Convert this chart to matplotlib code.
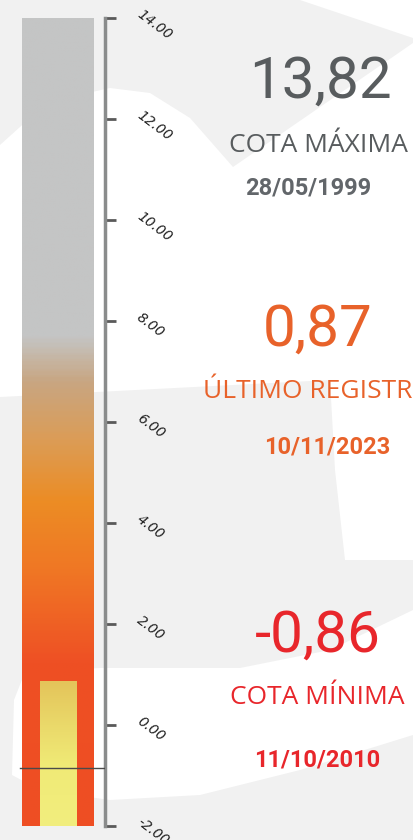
import matplotlib.pyplot as plt
import numpy as np
from matplotlib.colors import LinearSegmentedColormap
from matplotlib.patches import Polygon

# dados da régua
escala_min = -2.0
escala_max = 14.0
ticks = [-2, 0, 2, 4, 6, 8, 10, 12, 14]
tick_labels = ['-2.00', '0.00', '2.00', '4.00', '6.00', '8.00', '10.00', '12.00', '14.00']

cota_maxima = 13.82
data_maxima = '28/05/1999'
ultimo_registro = 0.87
data_ultimo = '10/11/2023'
cota_minima = -0.86
data_minima = '11/10/2010'

# cores do gradiente da régua (por cota)
stops_fundo = [(-2.0, '#EE4E23'), (1.2, '#EE5024'), (3.0, '#F07624'), (4.4, '#EC8C24'),
               (5.6, '#DC9C55'), (6.8, '#C8A682'), (7.7, '#C4C5C5'), (14.0, '#C4C5C5')]
stops_nivel = [(-2.0, '#F2EE7E'), (-0.8, '#F0EA76'), (0.0, '#EAD96A'), (0.87, '#E4C45A')]

W, H = 413, 840
fig = plt.figure(figsize=(W / 100, H / 100), dpi=100)
fig.patch.set_facecolor('#F1F1F1')

# fundo com formas brancas (marca d'agua)
bg = fig.add_axes([0, 0, 1, 1], zorder=0)
bg.set_xlim(0, W)
bg.set_ylim(H, 0)
bg.axis('off')
formas = [
    [(0, 145), (30, 118), (70, 97), (110, 88), (150, 93), (190, 118), (233, 167),
     (413, 43), (413, 560), (345, 560), (335, 470), (330, 380), (0, 397)],
    [(300, 0), (413, 0), (413, 38)],
    [(12, 775), (14, 700), (25, 672), (100, 668), (240, 668), (330, 650), (413, 610),
     (413, 735), (300, 770), (200, 795), (110, 800), (40, 790)],
]
for f in formas:
    bg.add_patch(Polygon(f, closed=True, facecolor='white', edgecolor='none'))


def cmap_de(stops, vmin, vmax):
    pos = [(v - vmin) / (vmax - vmin) for v, _ in stops]
    return LinearSegmentedColormap.from_list('g', list(zip(pos, [c for _, c in stops])))


ax = fig.add_axes([0, (H - 826) / H, 105 / W, (826 - 18) / H], zorder=1)
ax.patch.set_alpha(0)

# barra de fundo (escala completa)
fundo = ax.bar(0, escala_max - escala_min, bottom=escala_min, width=1.0,
               color='none', edgecolor='none')[0]
grad = np.linspace(0, 1, 400).reshape(-1, 1)
im = ax.imshow(grad, extent=[-0.5, 0.5, escala_min, escala_max], origin='lower',
               aspect='auto', cmap=cmap_de(stops_fundo, escala_min, escala_max))
im.set_clip_path(fundo)

# nivel atual
nivel = ax.bar(0, ultimo_registro - escala_min, bottom=escala_min, width=0.51,
               color='none', edgecolor='none')[0]
im2 = ax.imshow(grad, extent=[-0.255, 0.255, escala_min, ultimo_registro], origin='lower',
                aspect='auto', cmap=cmap_de(stops_nivel, escala_min, ultimo_registro))
im2.set_clip_path(nivel)

# linha da cota minima
ax.axhline(cota_minima, xmin=0.19, xmax=1.0, color='#4A4A4A', lw=1.0, zorder=5)

ax.set_xlim(-0.806, 0.653)
ax.set_ylim(escala_min, escala_max)
for s in ['left', 'top', 'bottom']:
    ax.spines[s].set_visible(False)
ax.spines['right'].set_color('#8A8C8C')
ax.spines['right'].set_linewidth(2.5)
ax.set_xticks([])
ax.yaxis.tick_right()
ax.set_yticks(ticks)
ax.set_yticklabels(tick_labels)
ax.tick_params(axis='y', direction='out', length=8, width=2, color='#5A5A5A', pad=13)
for lab in ax.get_yticklabels():
    lab.set_rotation(-37)
    lab.set_rotation_mode('anchor')
    lab.set_ha('left')
    lab.set_va('bottom')
    lab.set_fontsize(10)
    lab.set_fontstyle('italic')
    lab.set_color('#222222')


def fmt(v):
    return f'{v:.2f}'.replace('.', ',')


def texto(x, y, s, **kw):
    fig.text(x / W, 1 - y / H, s, ha='center', va='center', **kw)


cinza, laranja, vermelho = '#585C5E', '#E8622A', '#E8262B'

texto(320, 82, fmt(cota_maxima), fontsize=42, color=cinza, family='Roboto')
texto(318, 146, 'COTA MÁXIMA', fontsize=19, color=cinza, family='Open Sans')
texto(308, 188, data_maxima, fontsize=17, color='#62666A', family='Roboto', weight='bold')

texto(318, 330, fmt(ultimo_registro), fontsize=42, color=laranja, family='Roboto')
texto(318, 391, 'ÚLTIMO REGISTRO', fontsize=19, color=laranja, family='Open Sans')
texto(327, 447, data_ultimo, fontsize=17, color=laranja, family='Roboto', weight='bold')

texto(318, 636, fmt(cota_minima), fontsize=42, color=vermelho, family='Roboto')
texto(317, 698, 'COTA MÍNIMA', fontsize=19, color=vermelho, family='Open Sans')
texto(317, 760, data_minima, fontsize=17, color=vermelho, family='Roboto', weight='bold')

fig.savefig('out.png', dpi=100, facecolor=fig.get_facecolor())
